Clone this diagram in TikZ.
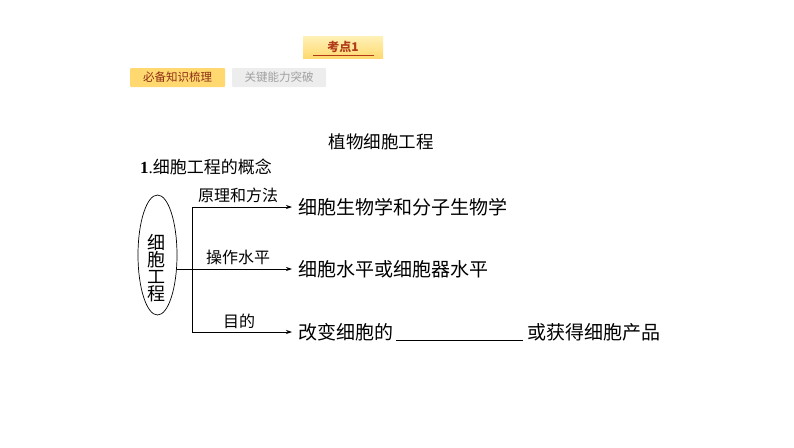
\documentclass[tikz,border=0pt]{standalone}
\usepackage{fontspec}
\setmainfont{Liberation Serif}
\newfontfamily\cjk{Noto Sans CJK SC}
\usetikzlibrary{shapes.geometric,arrows.meta}
\definecolor{tabyel}{HTML}{FFD970}
\definecolor{tabtop}{HTML}{FFF1B8}
\definecolor{tabred}{HTML}{B03A1A}
\definecolor{tabgrey}{HTML}{EDEDED}
\definecolor{greytxt}{HTML}{A0A0A0}
\begin{document}
\begin{tikzpicture}[x=1pt,y=-1pt,
  cj/.style={font=\cjk\fontsize{#1}{#1}\selectfont, inner sep=0pt},
  arr/.style={-{Stealth[length=6pt,width=4pt]}, line width=0.7pt},
  ln/.style={line width=0.7pt}]
\useasboundingbox (0,0) rectangle (794,447);
% top tabs
\shade[top color=tabtop,bottom color=tabyel] (303,36) rectangle (383,58);
\node[cj=12, text=tabred, font=\cjk\bfseries\fontsize{12}{12}\selectfont] (kd) at (343,47) {考点1};
\draw[tabred, line width=0.8pt] (313,55.5) -- (374,55.5);
\node[cj=11.5, fill=tabyel, text=tabred!80!black, minimum width=95pt, minimum height=19pt, rounded corners=1pt] (t1) at (177.5,77.5) {必备知识梳理};
\node[cj=11.5, fill=tabgrey, text=greytxt, minimum width=94pt, minimum height=19pt, rounded corners=1pt] (t2) at (279,77.5) {关键能力突破};
% title
\node[cj=17.5] (title) at (381,142) {植物细胞工程};
\node[anchor=west, inner sep=0pt] (sub) at (140,167) {\fontsize{17}{17}\selectfont\textbf{1}.\cjk 细胞工程的概念};
% ellipse
\node[draw, ellipse, line width=0.7pt, minimum width=39pt, minimum height=120pt, inner sep=0pt] (el) at (157.5,255) {};
\node[cj=18, align=center] (eltxt) at (156,268) {\cjk\fontsize{18}{22}\selectfont 细\\[-1pt]胞\\[-1pt]工\\[-1pt]程};
% trunk
\coordinate (j) at (192,269);
\coordinate (jt) at (192,207);
\coordinate (jb) at (192,332);
\draw[ln] (el.east |- j) -- (j);
\draw[ln] (jt) -- (jb);
% right texts
\node[cj=19, anchor=west] (r1) at (298,207) {细胞生物学和分子生物学};
\node[cj=19, anchor=west] (r2) at (298,269) {细胞水平或细胞器水平};
\node[cj=19, anchor=west] (r3) at (298,332) {改变细胞的};
\coordinate (u1) at (396,340);
\coordinate (u2) at (523,340);
\draw[line width=0.8pt] (u1) -- (u2);
\node[cj=19, anchor=west] (r3b) at (527,332) {或获得细胞产品};
% arrows
\draw[arr] (jt) -- ([xshift=-6pt]r1.west);
\draw[arr] (j) -- ([xshift=-6pt]r2.west);
\draw[arr] (jb) -- ([xshift=-6pt]r3.west);
% labels
\node[cj=16] (l1) at (238,195) {原理和方法};
\node[cj=16] (l2) at (238,257) {操作水平};
\node[cj=16] (l3) at (239,321) {目的};
\end{tikzpicture}
\end{document}
